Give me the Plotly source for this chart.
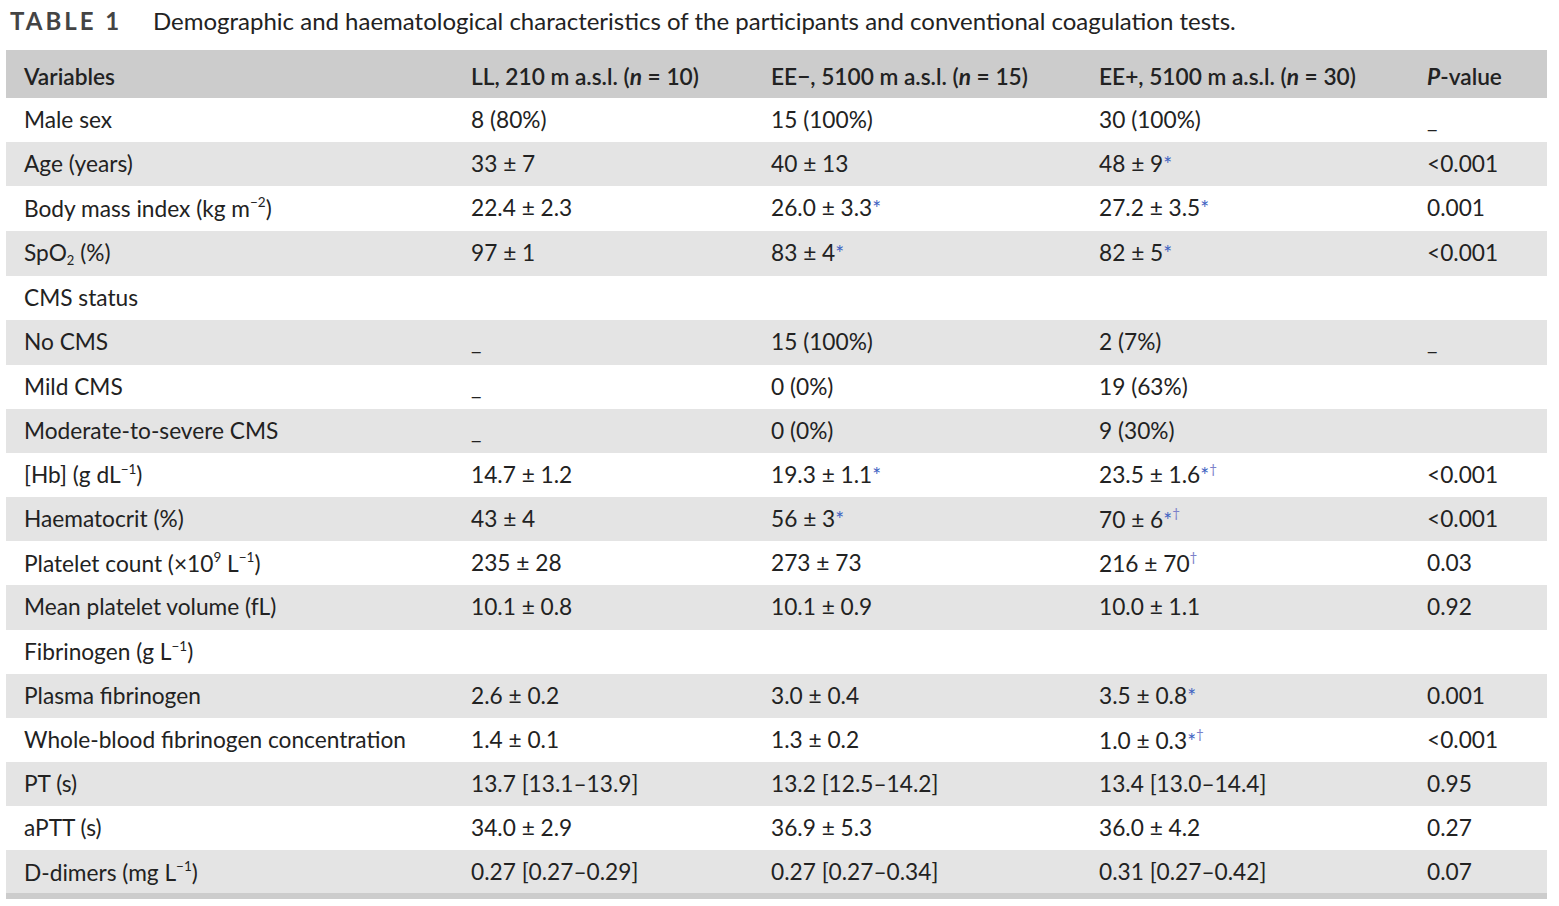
'''
Table 1: demographic and haematological characteristics of the participants.
'''

import plotly.graph_objects as go

W, H = 1559, 906

# raised / lowered text; the inner size keeps the glyphs inside the row height
SUP = "<sup><span style='font-size:13.5px'>{}</span></sup>"
SUB = "<sub><span style='font-size:13px'>{}</span></sub>"

# blue marks placed after some values
STAR = "<span style='color:#3f63c2;font-size:21px'>*</span>"
DAG = "<sup><span style='color:#7b80c9;font-size:13.5px'>†</span></sup>"
STAR_DAG = STAR + DAG

headers = [
    '',
    'Variables',
    'LL, 210 m a.s.l. (<b><i>n</i></b> = 10)',
    'EE−, 5100 m a.s.l. (<b><i>n</i></b> = 15)',
    'EE+, 5100 m a.s.l. (<b><i>n</i></b> = 30)',
    '<b><i>P</i></b>-value',
]

variables = [
    'Male sex',
    'Age (years)',
    'Body mass index (kg m' + SUP.format('−2') + ')',
    'SpO' + SUB.format('2') + ' (%)',
    'CMS status',
    'No CMS',
    'Mild CMS',
    'Moderate-to-severe CMS',
    '[Hb] (g dL' + SUP.format('−1') + ')',
    'Haematocrit (%)',
    'Platelet count (×10' + SUP.format('9') + ' L' + SUP.format('−1') + ')',
    'Mean platelet volume (fL)',
    'Fibrinogen (g L' + SUP.format('−1') + ')',
    'Plasma fibrinogen',
    'Whole-blood fibrinogen concentration',
    'PT (s)',
    'aPTT (s)',
    'D-dimers (mg L' + SUP.format('−1') + ')',
]

ll_values = [
    '8 (80%)', '33 ± 7', '22.4 ± 2.3', '97 ± 1', '',
    '_', '_', '_',
    '14.7 ± 1.2', '43 ± 4', '235 ± 28', '10.1 ± 0.8', '',
    '2.6 ± 0.2', '1.4 ± 0.1', '13.7 [13.1–13.9]', '34.0 ± 2.9', '0.27 [0.27–0.29]',
]

ee_minus_values = [
    '15 (100%)', '40 ± 13', '26.0 ± 3.3' + STAR, '83 ± 4' + STAR, '',
    '15 (100%)', '0 (0%)', '0 (0%)',
    '19.3 ± 1.1' + STAR, '56 ± 3' + STAR, '273 ± 73', '10.1 ± 0.9', '',
    '3.0 ± 0.4', '1.3 ± 0.2', '13.2 [12.5–14.2]', '36.9 ± 5.3', '0.27 [0.27–0.34]',
]

ee_plus_values = [
    '30 (100%)', '48 ± 9' + STAR, '27.2 ± 3.5' + STAR, '82 ± 5' + STAR, '',
    '2 (7%)', '19 (63%)', '9 (30%)',
    '23.5 ± 1.6' + STAR_DAG, '70 ± 6' + STAR_DAG, '216 ± 70' + DAG, '10.0 ± 1.1', '',
    '3.5 ± 0.8' + STAR, '1.0 ± 0.3' + STAR_DAG, '13.4 [13.0–14.4]', '36.0 ± 4.2', '0.31 [0.27–0.42]',
]

p_values = [
    '_', '&lt;0.001', '0.001', '&lt;0.001', '',
    '_', '', '',
    '&lt;0.001', '&lt;0.001', '0.03', '0.92', '',
    '0.001', '&lt;0.001', '0.95', '0.27', '0.07',
]


def px_y(y):
    '''Convert a pixel row (from the top) to paper coordinates.'''
    return 1 - y / H


def no_wrap(col, tail='<br>'):
    # a trailing <br> keeps plotly from splitting the text (and its tags) on spaces
    return [v + tail if v else v for v in col]


def main() -> None:
    n_rows = len(variables)
    # alternate white / light grey rows
    row_fill = ['white' if i % 2 == 0 else '#e4e4e4' for i in range(n_rows)]

    # table geometry in pixels
    left, right = 6, 1547
    top = 50
    header_h = 48
    row_h = 44.17
    bottom = top + header_h + n_rows * row_h
    font = {'family': 'Lato', 'size': 22.7, 'color': '#222222'}

    columns = [[''] * n_rows, variables, ll_values, ee_minus_values,
               ee_plus_values, p_values]

    # an empty raised space lowers the header text towards the band's middle
    header_tail = "<sup><span style='font-size:17px'>\u00a0</span></sup><br>"

    fig = go.Figure(go.Table(
        domain={'x': [left / W, right / W], 'y': [px_y(bottom + 2), px_y(top)]},
        columnwidth=[10, 447, 300, 328, 328, 128],
        header={
            'values': no_wrap(headers, header_tail),
            'fill': {'color': '#cccccc'},
            'line': {'width': 0},
            'align': 'left',
            'height': header_h,
            'font': {**font, 'weight': 600},
        },
        cells={
            'values': [no_wrap(c) for c in columns],
            'fill': {'color': [row_fill] * 6},
            'line': {'width': 0},
            'align': 'left',
            'height': row_h,
            'font': font,
        },
    ))

    # darker band closing the table
    fig.add_shape(
        type='rect', xref='paper', yref='paper',
        x0=left / W, x1=right / W, y0=px_y(bottom + 6), y1=px_y(bottom),
        fillcolor='#cccccc', line={'width': 0}, layer='above'
    )

    # caption
    fig.add_annotation(
        x=8 / W, y=px_y(20), xref='paper', yref='paper',
        xanchor='left', yanchor='middle', showarrow=False,
        text="<span style='letter-spacing:3px'><b>TABLE 1</b></span>",
        font={'family': 'Lato', 'size': 24, 'color': '#444444'}
    )
    fig.add_annotation(
        x=151 / W, y=px_y(20), xref='paper', yref='paper',
        xanchor='left', yanchor='middle', showarrow=False,
        text='Demographic and haematological characteristics of the participants '
             'and conventional coagulation tests.',
        font={'family': 'Lato', 'size': 24, 'color': '#222222'}
    )

    fig.update_layout(
        width=W, height=H,
        margin={'l': 0, 'r': 0, 't': 0, 'b': 0},
        paper_bgcolor='white',
        plot_bgcolor='white',
    )

    # the page adds an 8px body margin by default; drop it so the figure fills the window
    fig.write_html('out.html', config={'displayModeBar': False},
                   post_script="document.body.style.margin='0';")


if __name__ == '__main__':
    main()
